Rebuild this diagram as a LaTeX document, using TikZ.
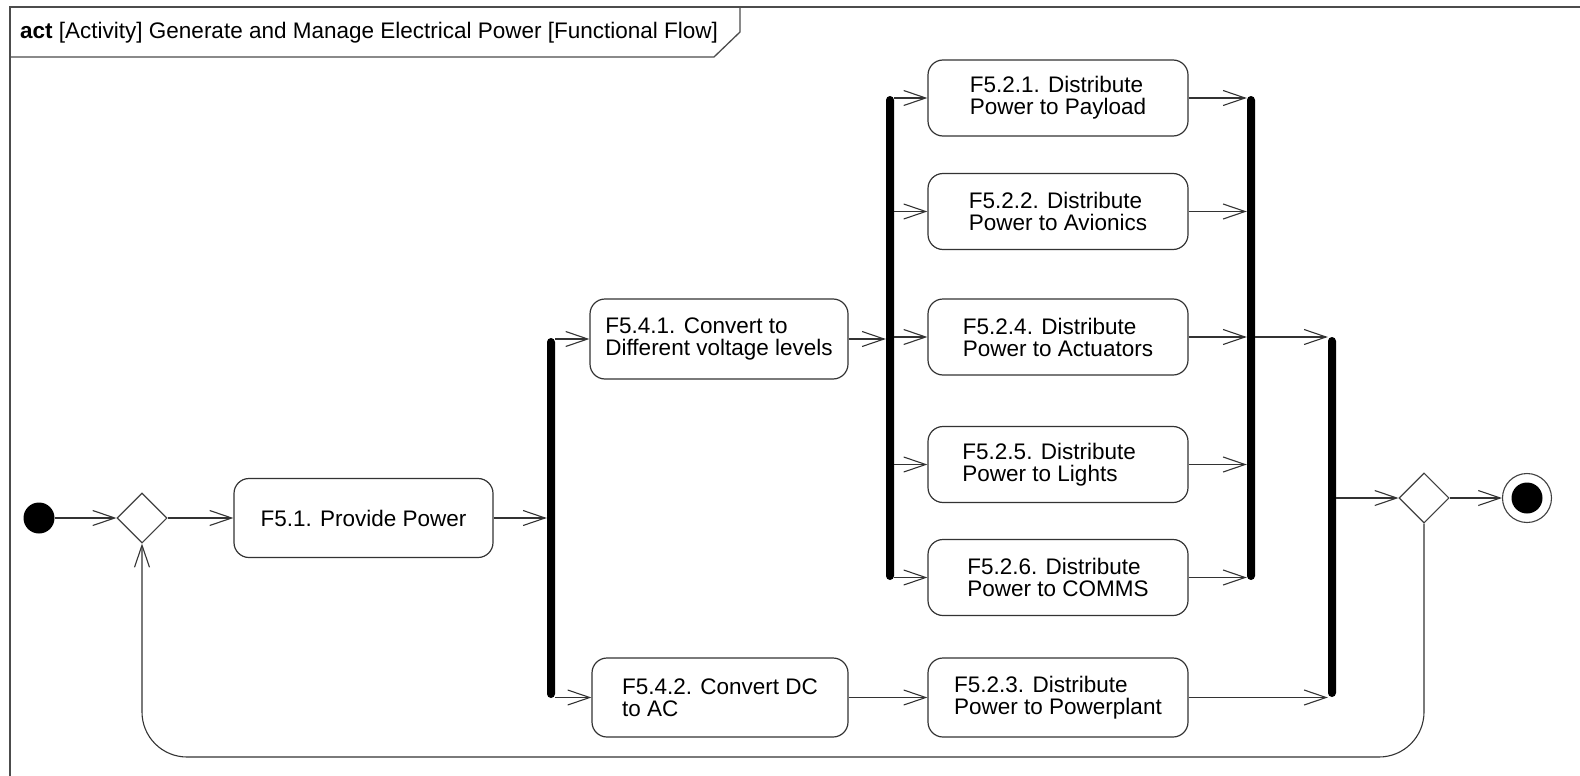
\documentclass[tikz,border=0pt]{standalone}
\usepackage{fontspec}
\setmainfont{Liberation Sans}
\usetikzlibrary{arrows.meta,shapes.geometric}
\tikzset{
  every node/.style={font=\fontsize{22.5}{22}\selectfont},
  actbox/.style={draw=black!80, line width=1.2pt, rounded corners=15pt, minimum width=260pt, minimum height=76pt, inner sep=0pt, align=left},
  bar/.style={fill=black, draw=none, rounded corners=4pt, minimum width=8pt, inner sep=0pt},
  flow/.style={draw=black!80, line width=1.1pt, -{Straight Barb[length=22pt,width=15pt]}},
  decision/.style={draw=black!75, line width=1.1pt, diamond, shape aspect=1, minimum width=50pt, minimum height=50pt, inner sep=0pt},
  frame/.style={draw=black!70, line width=1.3pt}
}
\begin{document}
\begin{tikzpicture}[x=1pt,y=-1pt]
\useasboundingbox (0,0) rectangle (1580,776);
% frame
\draw[frame] (10,776) -- (10,7) -- (1580,7);
\draw[frame] (10,57) -- (714,57) -- (740,32) -- (740,7);
\node[anchor=west, inner sep=0pt] (title) at (20,33) {\textbf{act} [Activity] Generate and Manage Electrical Power [Functional Flow]};
% nodes
\node[circle, fill=black, minimum size=31pt, inner sep=0pt] (init) at (39,518) {};
\node[decision] (dec1) at (142,518) {};
\node[actbox, minimum width=259pt, minimum height=79pt] (p51) at (363.5,518) {F5.1. Provide Power};
\node[bar, minimum height=360pt] (bar1) at (551,518) {};
\node[actbox, minimum width=258pt, minimum height=80pt] (b541) at (719,339) {F5.4.1. Convert to\\Different voltage levels};
\node[actbox, minimum width=256pt, minimum height=79pt] (b542) at (720,697.5) {F5.4.2. Convert DC\\to AC\hspace*{2.2em}};
\node[bar, minimum height=484pt] (bar2) at (890,338) {};
\node[actbox] (b521) at (1058,98) {F5.2.1. Distribute\\Power to Payload};
\node[actbox] (b522) at (1058,211.5) {F5.2.2. Distribute\\Power to Avionics};
\node[actbox] (b524) at (1058,337) {F5.2.4. Distribute\\Power to Actuators};
\node[actbox] (b525) at (1058,464.5) {F5.2.5. Distribute\\Power to Lights\hspace*{1.6em}};
\node[actbox] (b526) at (1058,577.5) {F5.2.6. Distribute\\Power to COMMS};
\node[actbox, minimum height=79pt] (b523) at (1058,697.5) {F5.2.3. Distribute\\Power to Powerplant};
\node[bar, minimum height=484pt] (bar3) at (1251,338) {};
\node[bar, minimum height=360pt] (bar4) at (1332,517) {};
\node[decision] (dec2) at (1424,498) {};
\node[circle, draw=black!75, line width=1.1pt, minimum size=49pt, inner sep=0pt] (fin) at (1527,498) {};
\node[circle, fill=black, minimum size=31pt, inner sep=0pt] (fincore) at (fin.center) {};
\coordinate (loopy) at (0,757);
% flows
\draw[flow] (init.east) -- (dec1.west);
\draw[flow] (dec1.east) -- (p51.west);
\draw[flow] (p51.east) -- (p51.east -| bar1.west);
\draw[flow] (bar1.east |- b541.west) -- (b541.west);
\draw[flow] (bar1.east |- b542.west) -- (b542.west);
\draw[flow] (b541.east) -- (b541.east -| bar2.west);
\foreach \b in {b521,b522,b524,b525,b526}{
  \draw[flow] (bar2.east |- \b.west) -- (\b.west);
  \draw[flow] (\b.east) -- (\b.east -| bar3.west);
}
\draw[flow] (b542.east) -- (b523.west);
\draw[flow] (b523.east) -- (b523.east -| bar4.west);
\draw[flow] (bar3.east |- b524.east) -- (b524.east -| bar4.west);
\draw[flow] (bar4.east |- dec2.west) -- (dec2.west);
\draw[flow] (dec2.east) -- (fin.west);
\draw[flow, rounded corners=45pt] (dec2.south) -- (dec2.south |- loopy) -- (dec1.south |- loopy) -- (dec1.south);
\end{tikzpicture}
\end{document}
